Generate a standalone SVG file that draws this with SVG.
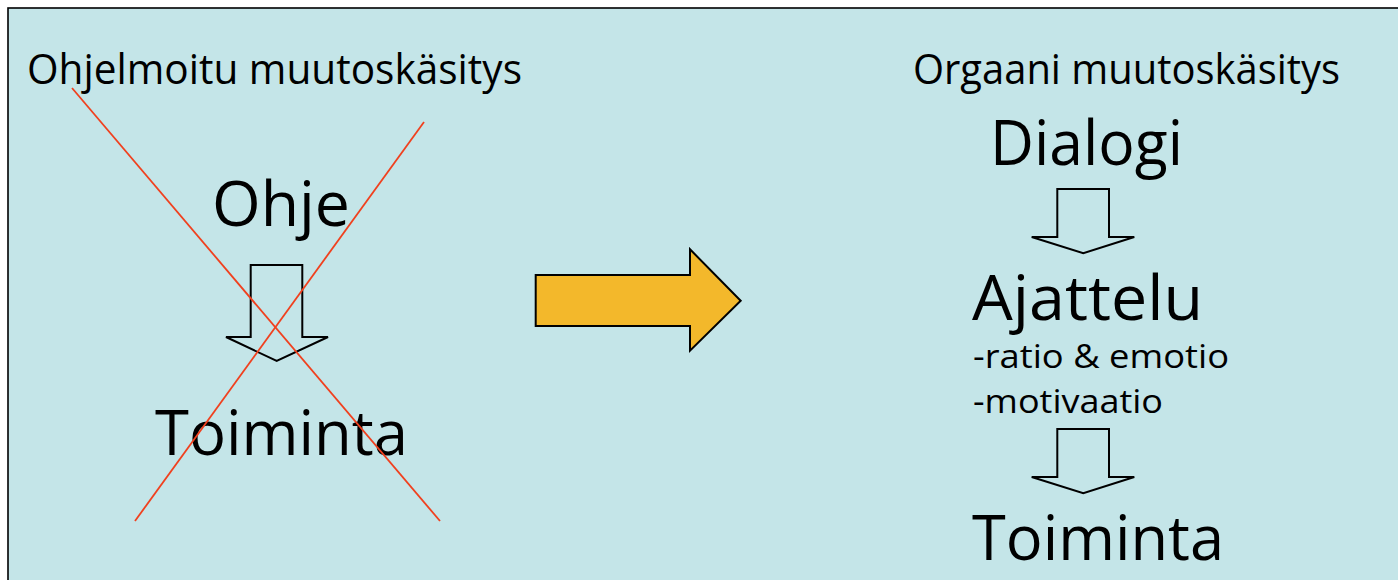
<svg xmlns="http://www.w3.org/2000/svg" width="1398" height="580" viewBox="0 0 1398 580">
<style>
text{font-family:"Open Sans","Noto Sans","Liberation Sans",sans-serif;fill:#000}
.t{font-size:42px}
.b{font-size:63px}
.s{font-size:32px}
.da{fill:none;stroke:#000;stroke-width:2;stroke-linejoin:miter}
.x{stroke:#F0401E;stroke-width:1.8}
</style>
<rect x="0" y="0" width="1398" height="580" fill="#fff"/>
<rect x="8" y="8" width="1400" height="590" fill="#C4E5E8" stroke="#000" stroke-width="1.6"/>
<g id="left-title"><text class="t" x="27" y="84" textLength="495" lengthAdjust="spacingAndGlyphs">Ohjelmoitu muutoskäsitys</text></g>
<g id="ohje"><text class="b" x="212" y="226" textLength="138" lengthAdjust="spacingAndGlyphs">Ohje</text></g>
<g id="toiminta-left"><text class="b" x="155" y="455" textLength="253" lengthAdjust="spacingAndGlyphs">Toiminta</text></g>
<g id="right-title"><text class="t" x="913" y="84" textLength="427" lengthAdjust="spacingAndGlyphs">Orgaani muutoskäsitys</text></g>
<g id="dialogi"><text class="b" x="990" y="165" textLength="193" lengthAdjust="spacingAndGlyphs">Dialogi</text></g>
<g id="ajattelu"><text class="b" x="972" y="320" textLength="231" lengthAdjust="spacingAndGlyphs">Ajattelu</text>
<text class="s" x="973" y="368" textLength="256" lengthAdjust="spacingAndGlyphs">-ratio &amp; emotio</text>
<text class="s" x="973" y="413" textLength="190" lengthAdjust="spacingAndGlyphs">-motivaatio</text></g>
<g id="toiminta-right"><text class="b" x="972" y="560" textLength="252" lengthAdjust="spacingAndGlyphs">Toiminta</text></g>
<g id="connectors">
<path class="da" d="M250.7,265 H302.3 V337 H328 L276.7,361 L226,337 H250.7 Z"/>
<path class="da" d="M1057.3,189 H1109 V237 H1134.3 L1083.3,253.3 L1031.7,237 H1057.3 Z"/>
<path class="da" d="M1057.3,429 H1109 V477 H1134.3 L1083.3,493.3 L1031.7,477 H1057.3 Z"/>
<path d="M535.7,275 H690 V249.3 L740.7,300.7 L690,350.7 V326 H535.7 Z" fill="#F3B82B" stroke="#000" stroke-width="2"/>
<line class="x" x1="72" y1="88" x2="440" y2="521"/>
<line class="x" x1="424" y1="122" x2="135" y2="521"/>
</g>
</svg>
